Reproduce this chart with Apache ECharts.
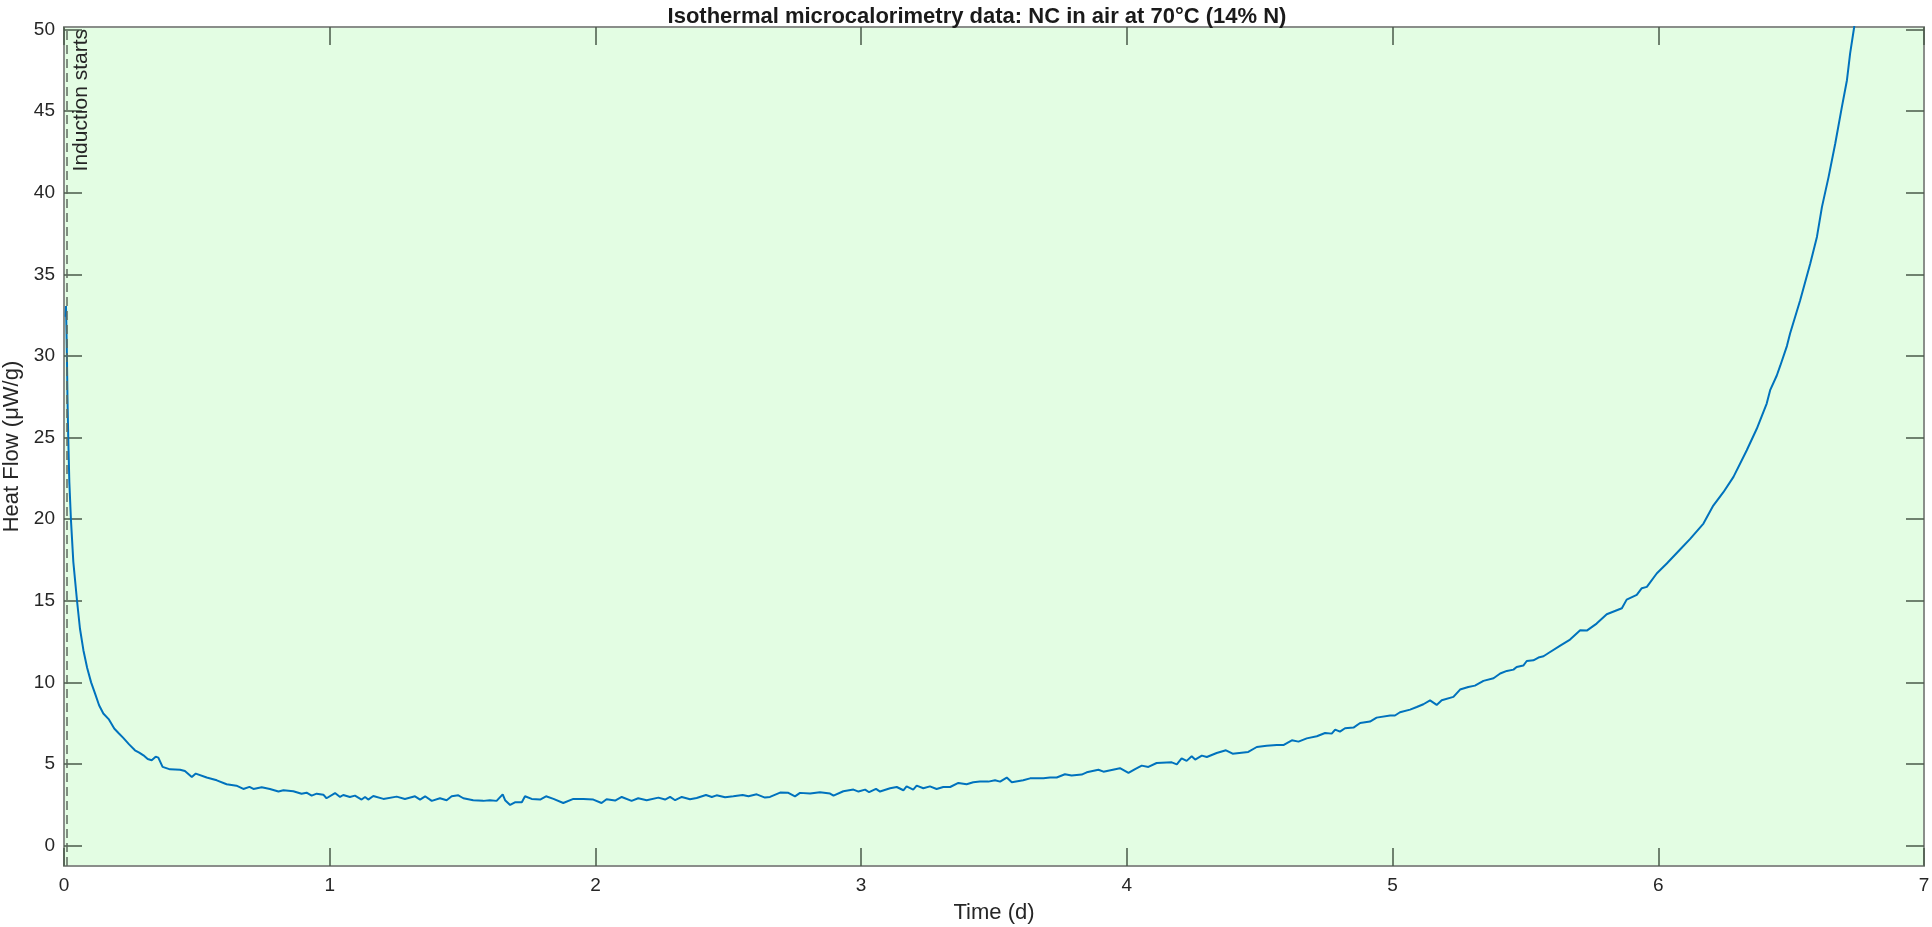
<!DOCTYPE html>
<html>
<head>
<meta charset="utf-8">
<script src="https://cdn.jsdelivr.net/npm/echarts@6/dist/echarts.min.js"></script>
<style>html,body{margin:0;padding:0;background:#fff;}#c{width:1932px;height:927px;}</style>
</head>
<body>
<div id="c"></div>
<script>
const timeDays = [0.006,0.0075,0.0085,0.010,0.011,0.013,0.016,0.020,0.026,0.035,0.049,0.060,0.073,0.087,0.102,0.117,0.132,0.148,0.168,0.189,0.205,0.223,0.245,0.267,0.283,0.299,0.315,0.330,0.345,0.355,0.371,0.399,0.437,0.455,0.481,0.496,0.537,0.575,0.612,0.649,0.675,0.698,0.713,0.744,0.775,0.807,0.826,0.863,0.894,0.913,0.932,0.951,0.976,0.988,1.020,1.039,1.051,1.076,1.095,1.120,1.133,1.145,1.164,1.202,1.252,1.283,1.321,1.340,1.359,1.384,1.415,1.440,1.459,1.484,1.503,1.540,1.578,1.603,1.628,1.651,1.660,1.679,1.697,1.723,1.735,1.760,1.792,1.814,1.842,1.879,1.917,1.955,1.992,2.023,2.042,2.074,2.099,2.136,2.161,2.193,2.237,2.262,2.281,2.300,2.325,2.356,2.381,2.416,2.438,2.456,2.488,2.519,2.554,2.576,2.607,2.638,2.657,2.695,2.726,2.751,2.770,2.808,2.845,2.883,2.896,2.933,2.971,2.990,3.015,3.030,3.056,3.071,3.109,3.134,3.159,3.171,3.196,3.209,3.234,3.259,3.284,3.309,3.335,3.366,3.397,3.422,3.447,3.479,3.504,3.523,3.548,3.567,3.610,3.636,3.686,3.711,3.736,3.767,3.792,3.830,3.849,3.893,3.912,3.974,4.006,4.031,4.056,4.081,4.112,4.169,4.188,4.206,4.225,4.244,4.257,4.282,4.301,4.338,4.373,4.398,4.457,4.489,4.526,4.564,4.589,4.621,4.646,4.677,4.715,4.746,4.771,4.784,4.802,4.821,4.853,4.878,4.915,4.940,4.991,5.009,5.028,5.066,5.091,5.116,5.141,5.166,5.185,5.229,5.254,5.285,5.310,5.342,5.380,5.405,5.430,5.455,5.467,5.492,5.505,5.530,5.549,5.568,5.587,5.631,5.668,5.706,5.731,5.768,5.806,5.863,5.881,5.919,5.938,5.957,5.994,6.032,6.082,6.120,6.170,6.207,6.245,6.283,6.333,6.371,6.408,6.421,6.446,6.459,6.484,6.496,6.534,6.572,6.597,6.616,6.641,6.666,6.691,6.710,6.722,6.737,6.745];
const heatFlow = [32.4,33.05,32.2,31.0,30.0,27.5,25.0,22.3,20.0,17.4,15.0,13.3,11.97,10.9,10.0,9.31,8.6,8.09,7.75,7.17,6.9,6.6,6.2,5.84,5.7,5.53,5.3,5.23,5.45,5.39,4.82,4.67,4.65,4.57,4.20,4.41,4.17,4.0,3.76,3.67,3.47,3.6,3.47,3.57,3.47,3.31,3.39,3.33,3.18,3.24,3.06,3.18,3.12,2.90,3.22,2.98,3.1,2.98,3.06,2.82,2.98,2.82,3.04,2.86,3.0,2.86,3.02,2.82,3.02,2.74,2.9,2.78,3.02,3.08,2.9,2.78,2.74,2.78,2.74,3.14,2.78,2.49,2.65,2.65,3.02,2.86,2.82,3.02,2.86,2.61,2.86,2.86,2.82,2.61,2.84,2.76,2.98,2.74,2.9,2.78,2.94,2.82,2.98,2.78,2.98,2.84,2.92,3.10,2.98,3.08,2.96,3.02,3.1,3.02,3.14,2.94,2.98,3.25,3.23,3.02,3.23,3.19,3.27,3.19,3.06,3.33,3.43,3.31,3.43,3.27,3.47,3.31,3.51,3.59,3.39,3.63,3.43,3.67,3.51,3.63,3.47,3.59,3.59,3.84,3.76,3.88,3.92,3.92,4.0,3.92,4.17,3.88,4.0,4.12,4.12,4.17,4.17,4.37,4.29,4.35,4.49,4.65,4.53,4.74,4.45,4.69,4.90,4.82,5.06,5.10,4.98,5.35,5.19,5.47,5.27,5.51,5.43,5.67,5.84,5.63,5.74,6.04,6.12,6.16,6.16,6.45,6.37,6.57,6.70,6.90,6.86,7.11,6.98,7.19,7.23,7.51,7.60,7.84,7.97,7.97,8.17,8.33,8.49,8.66,8.90,8.62,8.90,9.11,9.56,9.72,9.80,10.09,10.25,10.54,10.70,10.78,10.94,11.03,11.31,11.35,11.52,11.6,11.80,12.25,12.62,13.19,13.17,13.60,14.17,14.54,15.07,15.36,15.77,15.85,16.67,17.28,18.14,18.79,19.73,20.83,21.65,22.59,24.22,25.55,27.08,27.9,28.8,29.4,30.6,31.37,33.41,35.66,37.29,39.13,40.97,43.01,45.26,46.89,48.53,50.12,51.2];
const xTicks = [0,1,2,3,4,5,6,7];
const yTicks = [0,5,10,15,20,25,30,35,40,45,50];
const inductionDay = 0.014;

const FONT = "'Liberation Sans', Arial, Helvetica, sans-serif";
const TXT = '#262626';
const AXC = '#8a8e8a';
const TKC = '#4a5a4a';

const chart = echarts.init(document.getElementById('c'));
const pts = timeDays.map((t, i) => [t, heatFlow[i]]);

function xAx(pos, showLabel) {
  return {
    type: 'value', position: pos, min: 0, max: 7, interval: 1,
    axisLine: { show: true, onZero: false, lineStyle: { color: AXC, width: 2 } },
    axisTick: { show: true, inside: true, length: 18, lineStyle: { color: TKC, width: 1.5 } },
    axisLabel: { show: showLabel, fontSize: 19, color: TXT, margin: 10, fontFamily: FONT },
    splitLine: { show: false },
    name: showLabel ? 'Time (d)' : '', nameLocation: 'middle', nameGap: 36,
    nameTextStyle: { fontSize: 22, color: TXT, fontFamily: FONT }
  };
}
function yAx(pos, showLabel) {
  return {
    type: 'value', position: pos, min: -1.25, max: 50.15,
    axisLine: { show: true, onZero: false, lineStyle: { color: AXC, width: 2 } },
    axisTick: { show: true, inside: true, length: 18, customValues: yTicks, lineStyle: { color: TKC, width: 1.5 } },
    axisLabel: { show: showLabel, customValues: yTicks, fontSize: 19, color: TXT, margin: 9, fontFamily: FONT },
    splitLine: { show: false },
    name: showLabel ? 'Heat Flow (\u03bcW/g)' : '', nameLocation: 'middle', nameGap: 40,
    nameTextStyle: { fontSize: 22, color: TXT, fontFamily: FONT }
  };
}

chart.setOption({
  animation: false,
  backgroundColor: '#ffffff',
  title: {
    text: 'Isothermal microcalorimetry data: NC in air at 70\u00b0C (14% N)',
    left: 972, textAlign: 'center', top: 1,
    textStyle: { fontSize: 22, fontWeight: 'bold', color: '#1a1a1a', fontFamily: FONT }
  },
  grid: { left: 64, top: 27, right: 8, bottom: 61, show: true, backgroundColor: '#e3fde3', borderWidth: 0, outerBoundsMode: 'none', containLabel: false },
  xAxis: [xAx('bottom', true), xAx('top', false)],
  yAxis: [yAx('left', true), yAx('right', false)],
  series: [
    {
      type: 'line', data: [], z: 1, silent: true,
      markLine: {
        silent: true, symbol: 'none', animation: false,
        lineStyle: { type: [9, 5], color: '#5f6a5f', width: 1.5 },
        label: { show: true, formatter: 'Induction starts', position: 'insideEndBottom', distance: [2, 4], fontSize: 21, color: TXT, fontFamily: FONT },
        data: [{ xAxis: inductionDay }]
      }
    },
    {
      type: 'line', data: pts, z: 3, showSymbol: false, clip: true,
      lineStyle: { color: '#0072BD', width: 2 }
    }
  ]
});
</script>
</body>
</html>
